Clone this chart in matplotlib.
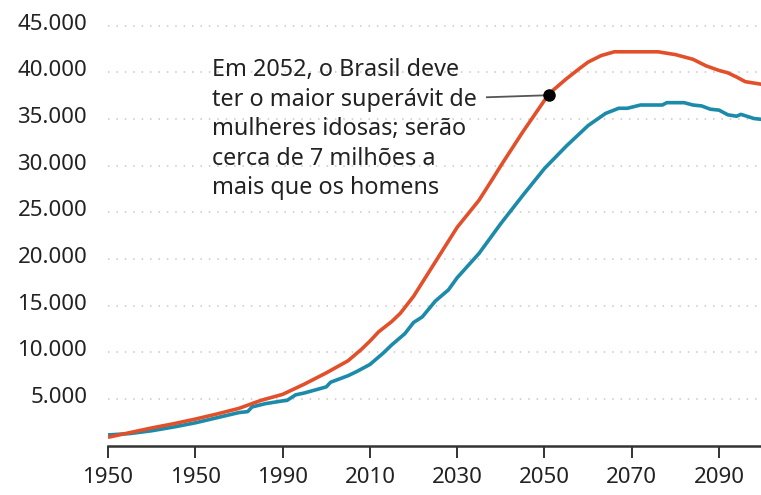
import numpy as np
import matplotlib.pyplot as plt
import matplotlib.transforms as mtransforms

plt.rcParams['font.family'] = ['Noto Sans', 'DejaVu Sans']

# população idosa (milhares)
anos_mulheres = [1950, 1955, 1960, 1965, 1970, 1975, 1980, 1985, 1990, 1995,
                 2000, 2005, 2008, 2010, 2012, 2015, 2017, 2020, 2025, 2030,
                 2035, 2038, 2040, 2045, 2050, 2052, 2055, 2058, 2060, 2063,
                 2066, 2070, 2076, 2080, 2084, 2087, 2090, 2092, 2094, 2096, 2100]
mulheres = [900, 1400, 1900, 2350, 2850, 3400, 4000, 4850, 5500, 6600,
            7800, 9100, 10300, 11200, 12200, 13300, 14200, 16000, 19700, 23400,
            26300, 28500, 30000, 33600, 37000, 38100, 39300, 40400, 41100, 41800,
            42200, 42200, 42200, 41900, 41400, 40700, 40200, 39950, 39500, 39000, 38700]

anos_homens = [1950, 1955, 1960, 1965, 1970, 1975, 1980, 1982, 1983, 1986,
               1990, 1991, 1993, 1995, 2000, 2001, 2003, 2005, 2007, 2010,
               2013, 2015, 2018, 2020, 2022, 2025, 2028, 2030, 2035, 2040,
               2045, 2050, 2055, 2060, 2064, 2067, 2069, 2072, 2077, 2078,
               2082, 2084, 2086, 2088, 2090, 2092, 2094, 2095, 2098, 2100]
homens = [1150, 1300, 1600, 2000, 2450, 3000, 3550, 3650, 4150, 4500,
          4800, 4850, 5450, 5650, 6300, 6800, 7150, 7500, 7950, 8700,
          9900, 10800, 12000, 13200, 13800, 15500, 16700, 18000, 20600, 23800,
          26800, 29700, 32100, 34300, 35600, 36150, 36150, 36500, 36500, 36750,
          36750, 36500, 36400, 36050, 35950, 35450, 35300, 35500, 35050, 34950]

ticks_x = [1950, 1970, 1990, 2010, 2030, 2050, 2070, 2090]
rotulos_x = ['1950', '1950', '1990', '2010', '2030', '2050', '2070', '2090']
ticks_y = [5000, 10000, 15000, 20000, 25000, 30000, 35000, 40000, 45000]
rotulos_y = ['5.000', '10.000', '15.000', '20.000', '25.000', '30.000',
             '35.000', '40.000', '45.000']

ano_destaque = 2051

vermelho = '#E2502B'
azul = '#1B8BA9'

fig = plt.figure(figsize=(7.61, 4.95), dpi=100)
ax = fig.add_axes([108 / 761, 49.3 / 495, 1 - 108 / 761, 1 - 49.3 / 495])

for y in ticks_y:
    ax.axhline(y, color='#c8c8c8', linewidth=1.1, linestyle=(0, (1, 4.5)), zorder=1)

ax.plot(anos_homens, homens, color=azul, linewidth=2.6, zorder=3, solid_capstyle='butt')
ax.plot(anos_mulheres, mulheres, color=vermelho, linewidth=2.6, zorder=3, solid_capstyle='butt')

y_dest = np.interp(ano_destaque, anos_mulheres, mulheres)
ax.plot([2036.8, ano_destaque], [y_dest - 220, y_dest], color='#555555', linewidth=1.3, zorder=4)
ax.plot([ano_destaque], [y_dest], 'o', color='black', markersize=8, zorder=5)

ax.set_xlim(1950, 2099.6)
ax.set_ylim(0, 47750)

ax.set_xticks(ticks_x)
ax.set_xticklabels(rotulos_x)
ax.set_yticks(ticks_y)
ax.set_yticklabels(rotulos_y)

ax.tick_params(axis='x', length=8.5, width=1.4, color='#333333', pad=7,
               labelsize=16, labelcolor='#222222')
ax.tick_params(axis='y', length=0, pad=15, labelsize=16, labelcolor='#222222')
desloc = mtransforms.ScaledTranslation(0, 4 / 100, fig.dpi_scale_trans)
for lab in ax.get_yticklabels():
    lab.set_transform(lab.get_transform() + desloc)

for lado in ['top', 'right', 'left']:
    ax.spines[lado].set_visible(False)
ax.spines['bottom'].set_color('#333333')
ax.spines['bottom'].set_linewidth(1.8)

fig.text(212 / 761, 1 - 58 / 495,
         'Em 2052, o Brasil deve\nter o maior superávit de\nmulheres idosas; serão\n'
         'cerca de 7 milhões a\nmais que os homens',
         ha='left', va='top', fontsize=16.8, color='#222222', linespacing=1.31)

fig.savefig('out.png', dpi=100)
